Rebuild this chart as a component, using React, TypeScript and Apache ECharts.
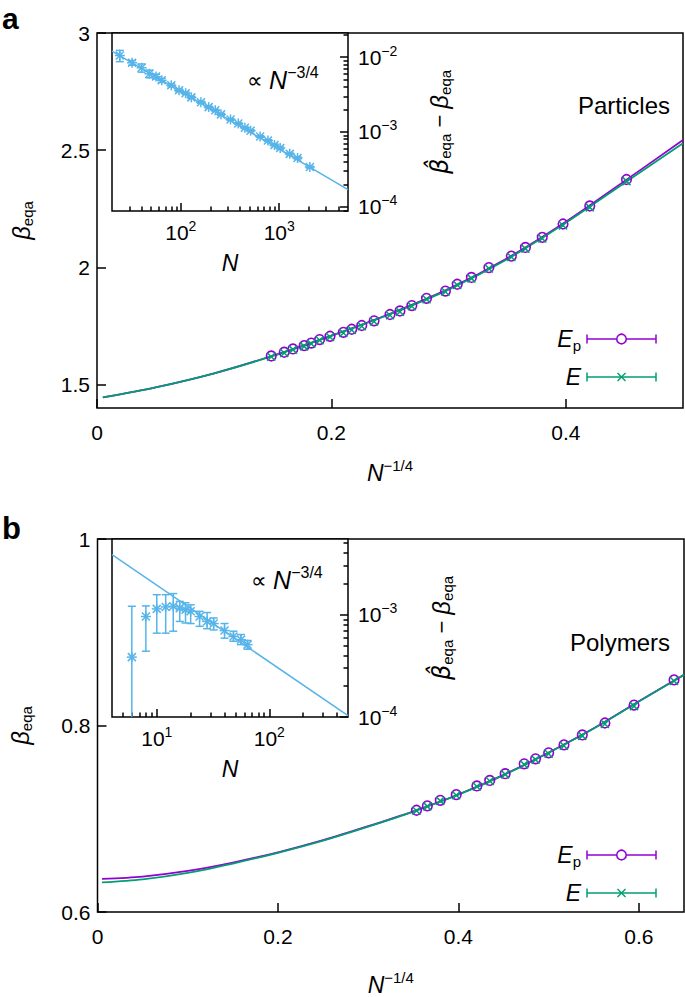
import React, { useEffect, useRef } from 'react';
import * as echarts from 'echarts';

const FONT = '"Liberation Sans", Arial, Helvetica, sans-serif';
const PURPLE = '#9400D3';
const GREEN = '#009E73';
const BLUE = '#56B4E9';

// ---------- Panel a (Particles) ----------
const particleN = [24, 32, 40, 48, 56, 64, 80, 96, 112, 128, 160, 192, 224, 256, 320, 384, 448, 512, 640, 768, 896, 1024, 1280, 1536, 2048];
const particleEp = [2.375, 2.262, 2.185, 2.128, 2.085, 2.048, 1.999, 1.957, 1.928, 1.899, 1.868, 1.837, 1.814, 1.799, 1.772, 1.752, 1.736, 1.723, 1.706, 1.692, 1.677, 1.666, 1.652, 1.638, 1.622];
const particleE = [2.368, 2.256, 2.179, 2.123, 2.080, 2.044, 1.995, 1.953, 1.925, 1.896, 1.864, 1.834, 1.811, 1.796, 1.769, 1.749, 1.733, 1.720, 1.703, 1.689, 1.674, 1.663, 1.649, 1.635, 1.619];
const fitXa = [0.005, 0.05, 0.1, 0.15, 0.2, 0.25, 0.3, 0.35, 0.4, 0.45, 0.5];
const fitEpA = [1.445, 1.488, 1.548, 1.623, 1.709, 1.802, 1.908, 2.039, 2.195, 2.368, 2.543];
const fitEA = [1.445, 1.488, 1.548, 1.622, 1.708, 1.800, 1.905, 2.035, 2.190, 2.360, 2.530];
// inset a: beta_hat - beta vs N
const insetDiffA = [1.05e-2, 8.4e-3, 7.2e-3, 6.0e-3, 5.5e-3, 4.9e-3, 4.2e-3, 3.6e-3, 3.3e-3, 2.9e-3, 2.5e-3, 2.15e-3, 1.95e-3, 1.72e-3, 1.47e-3, 1.3e-3, 1.14e-3, 1.04e-3, 8.7e-4, 7.7e-4, 6.7e-4, 6.1e-4, 5.1e-4, 4.5e-4, 3.4e-4];
const insetErrA = [1.8e-3, 6e-4, 9e-4, 7e-4, 4e-4, 3e-4, 2e-4, 1.5e-4, 1.2e-4, 1e-4, 8e-5, 6e-5, 5e-5, 5e-5, 4e-5, 3e-5, 3e-5, 3e-5, 2e-5, 2e-5, 2e-5, 2e-5, 1.5e-5, 1.5e-5, 1e-5];
const insetFitNa = [20, 5000];
const insetFitA = [1.2e-2, 1.7e-4];

// ---------- Panel b (Polymers) ----------
const polymerN = [6, 8, 10, 12, 14, 16, 18, 20, 24, 28, 32, 40, 48, 56, 64];
const polymerEp = [0.8489, 0.8219, 0.8027, 0.7899, 0.7792, 0.7707, 0.7643, 0.7589, 0.7483, 0.7411, 0.7352, 0.7259, 0.7198, 0.7138, 0.7091];
const polymerE = [0.8478, 0.8208, 0.8016, 0.7889, 0.7783, 0.7698, 0.7634, 0.7581, 0.7476, 0.7404, 0.7345, 0.7253, 0.7192, 0.7133, 0.7086];
const fitXb = [0.005, 0.05, 0.1, 0.15, 0.2, 0.25, 0.3, 0.35, 0.4, 0.45, 0.5, 0.55, 0.6, 0.65];
const fitEpB = [0.6355, 0.638, 0.644, 0.653, 0.664, 0.677, 0.692, 0.708, 0.726, 0.747, 0.771, 0.797, 0.826, 0.8545];
const fitEB = [0.6317, 0.635, 0.642, 0.652, 0.6635, 0.6765, 0.6915, 0.7077, 0.7258, 0.7468, 0.7708, 0.7968, 0.8258, 0.8543];
const insetDiffB = [3.85e-4, 9.6e-4, 1.14e-3, 1.19e-3, 1.21e-3, 1.16e-3, 1.12e-3, 1.08e-3, 9.6e-4, 8.6e-4, 8.2e-4, 7.0e-4, 6.13e-4, 5.7e-4, 5.1e-4];
const insetLoB = [0, 4.4e-4, 6.6e-4, 6.6e-4, 6.9e-4, 8.6e-4, 8.3e-4, 8.2e-4, 7.7e-4, 7.3e-4, 7.1e-4, 5.9e-4, 5.5e-4, 5.1e-4, 4.6e-4];
const insetHiB = [1.21e-3, 1.22e-3, 1.57e-3, 1.57e-3, 1.61e-3, 1.35e-3, 1.31e-3, 1.25e-3, 1.08e-3, 1.05e-3, 9.3e-4, 8.2e-4, 6.9e-4, 6.4e-4, 5.6e-4];
const insetFitNb = [4, 500];
const insetFitB = [3.87e-3, 1.03e-4];

// ---------- ticks / ranges ----------
const mainXTicksA = [0, 0.2, 0.4];
const mainYTicksA = [1.5, 2, 2.5, 3];
const mainXTicksB = [0, 0.2, 0.4, 0.6];
const mainYTicksB = [0.6, 0.8, 1];
const insetXRangeA = [20, 5000];
const insetYRangeA = [8.8e-5, 0.021];
const insetXMajorA = [100, 1000];
const insetYMajorA = [1e-4, 1e-3, 1e-2];
const insetXRangeB = [4, 500];
const insetYRangeB = [1e-4, 5.5e-3];
const insetXMajorB = [10, 100];
const insetYMajorB = [1e-4, 1e-3];

const lg = (v: number) => Math.log10(v);

function minorLogTicks(lo: number, hi: number): number[] {
  const out: number[] = [];
  for (let e = Math.floor(lg(lo)) - 1; e <= Math.ceil(lg(hi)); e++) {
    for (let k = 2; k <= 9; k++) {
      const v = k * Math.pow(10, e);
      if (v > lo * 1.0001 && v < hi * 0.9999) out.push(lg(v));
    }
  }
  return out;
}

const black = '#000';
const tickStyle = { color: black, width: 1.5 };

const richCommon: any = {
  b: { fontSize: 21, fontFamily: FONT, color: black },
  s: { fontSize: 14, fontFamily: FONT, color: black, padding: [0, 0, 13, 0] },
  i: { fontSize: 23, fontStyle: 'italic', fontFamily: FONT, color: black },
  g: { fontSize: 24, fontStyle: 'italic', fontFamily: FONT, color: black },
  gh: { fontSize: 24, fontStyle: 'italic', fontFamily: '"DejaVu Sans", sans-serif', color: black },
  ss: { fontSize: 15, fontFamily: FONT, color: black, padding: [0, 0, 14, 0] },
  sub: { fontSize: 15, fontFamily: FONT, color: black, padding: [12, 0, 0, 0] },
  m: { fontSize: 22, fontFamily: FONT, color: black },
};

const logFmt = (v: number) => {
  const e = Math.round(v);
  return `{b|10}{s|${e < 0 ? '\u2212' + -e : e}}`;
};

function mainX(grid: number, max: number, ticks: number[], nameGap: number) {
  return {
    type: 'value', gridIndex: grid, min: 0, max, position: 'bottom',
    axisLine: { show: false },
    axisTick: { show: true, inside: true, length: 9, lineStyle: tickStyle, customValues: ticks },
    axisLabel: { customValues: ticks, color: black, fontSize: 21, fontFamily: FONT, margin: 14 },
    splitLine: { show: false },
    name: '{i|N}{ss|\u22121/4}', nameLocation: 'middle', nameGap,
    nameTextStyle: { rich: richCommon },
  };
}
function mainY(grid: number, min: number, max: number, ticks: number[], nameGap: number) {
  return {
    type: 'value', gridIndex: grid, min, max, position: 'left',
    axisLine: { show: false },
    axisTick: { show: true, inside: true, length: 9, lineStyle: tickStyle, customValues: ticks },
    axisLabel: { customValues: ticks, color: black, fontSize: 21, fontFamily: FONT, margin: 7 },
    splitLine: { show: false },
    name: '{g|\u03B2}{sub|eqa}', nameLocation: 'middle', nameGap, nameRotate: 90,
    nameTextStyle: { rich: richCommon },
  };
}
function insetX(grid: number, range: number[], major: number[]) {
  const t = major.map(lg);
  return {
    type: 'value', gridIndex: grid, min: lg(range[0]), max: lg(range[1]), position: 'bottom',
    axisLine: { show: false },
    axisTick: { show: true, inside: true, length: 8, lineStyle: tickStyle, customValues: t },
    axisLabel: { customValues: t, formatter: logFmt, rich: richCommon, margin: 8 },
    splitLine: { show: false },
    name: '{i|N}', nameLocation: 'middle', nameGap: 40,
    nameTextStyle: { rich: richCommon },
  };
}
function insetXMinor(grid: number, range: number[]) {
  return {
    type: 'value', gridIndex: grid, min: lg(range[0]), max: lg(range[1]), position: 'bottom',
    axisLine: { show: false },
    axisTick: { show: true, inside: true, length: 4.5, lineStyle: tickStyle, customValues: minorLogTicks(range[0], range[1]) },
    axisLabel: { show: false },
    splitLine: { show: false },
  };
}
function insetY(grid: number, range: number[], major: number[], nameGap: number) {
  const t = major.map(lg);
  return {
    type: 'value', gridIndex: grid, min: lg(range[0]), max: lg(range[1]), position: 'right',
    axisLine: { show: false },
    axisTick: { show: true, inside: true, length: 8, lineStyle: tickStyle, customValues: t },
    axisLabel: { customValues: t, formatter: logFmt, rich: richCommon, margin: 10 },
    splitLine: { show: false },
    name: '{gh|\u03B2\u0302}{sub|eqa}{m| \u2212 }{g|\u03B2}{sub|eqa}', nameLocation: 'middle', nameGap, nameRotate: 90,
    nameTextStyle: { rich: richCommon },
  };
}
function insetYMinor(grid: number, range: number[]) {
  return {
    type: 'value', gridIndex: grid, min: lg(range[0]), max: lg(range[1]), position: 'right',
    axisLine: { show: false },
    axisTick: { show: true, inside: true, length: 4.5, lineStyle: tickStyle, customValues: minorLogTicks(range[0], range[1]) },
    axisLabel: { show: false },
    splitLine: { show: false },
  };
}

const ln = (x1: number, y1: number, x2: number, y2: number, color: string) => ({
  type: 'line', shape: { x1, y1, x2, y2 }, style: { stroke: color, lineWidth: 1.5 },
});

const circleRender = (color: string) => (_p: any, api: any) => {
  const p = api.coord([api.value(0), api.value(1)]);
  return { type: 'circle', shape: { cx: p[0], cy: p[1], r: 4.8 }, style: { fill: 'none', stroke: color, lineWidth: 1.6 } };
};
const crossRender = (color: string) => (_p: any, api: any) => {
  const p = api.coord([api.value(0), api.value(1)]);
  const s = 4;
  return { type: 'group', children: [ln(p[0] - s, p[1] - s, p[0] + s, p[1] + s, color), ln(p[0] - s, p[1] + s, p[0] + s, p[1] - s, color)] };
};
const starErrRender = (color: string) => (_p: any, api: any) => {
  const x = api.value(0);
  const p = api.coord([x, api.value(1)]);
  const lo = api.coord([x, api.value(2)]);
  const hi = api.coord([x, api.value(3)]);
  const s = 4, c = 4;
  return {
    type: 'group', children: [
      ln(lo[0], lo[1], hi[0], hi[1], color),
      ln(lo[0] - c, lo[1], lo[0] + c, lo[1], color),
      ln(hi[0] - c, hi[1], hi[0] + c, hi[1], color),
      ln(p[0] - s, p[1] - s, p[0] + s, p[1] + s, color),
      ln(p[0] - s, p[1] + s, p[0] + s, p[1] - s, color),
      ln(p[0] - s - 1, p[1], p[0] + s + 1, p[1], color),
      ln(p[0], p[1] - s - 1, p[0], p[1] + s + 1, color),
    ],
  };
};

const richLegend: any = {
  i: { fontSize: 23, fontStyle: 'italic', fontFamily: FONT, fill: black, color: black },
  sub: { fontSize: 15, fontFamily: FONT, fill: black, color: black, padding: [12, 0, 0, 0] },
};
const richProp: any = {
  m: { fontSize: 22, fontFamily: FONT, fill: black, color: black },
  i: { fontSize: 25, fontStyle: 'italic', fontFamily: FONT, fill: black, color: black },
  s: { fontSize: 16, fontFamily: FONT, fill: black, color: black, padding: [0, 0, 15, 0] },
};

function legendRow(y: number, color: string, marker: 'circle' | 'cross', label: string) {
  const x1 = 587, x2 = 656, xm = 621.5;
  const els: any[] = [
    { type: 'text', x: 581, y, style: { text: label, rich: richLegend, align: 'right', verticalAlign: 'middle' } },
    ln(x1, y, x2, y, color),
    ln(x1, y - 4.5, x1, y + 4.5, color),
    ln(x2, y - 4.5, x2, y + 4.5, color),
  ];
  if (marker === 'circle') {
    els.push({ type: 'circle', shape: { cx: xm, cy: y, r: 4.8 }, style: { fill: '#fff', stroke: color, lineWidth: 1.6 } });
  } else {
    els.push(ln(xm - 4, y - 4, xm + 4, y + 4, color), ln(xm - 4, y + 4, xm + 4, y - 4, color));
  }
  return els;
}

function buildOption() {
  const xa = particleN.map((n) => Math.pow(n, -0.25));
  const xb = polymerN.map((n) => Math.pow(n, -0.25));
  return {
    animation: false,
    backgroundColor: '#fff',
    grid: [
      { left: 97, top: 33, width: 586, height: 375, show: true, borderColor: black, borderWidth: 1.5, backgroundColor: 'transparent' },
      { left: 112, top: 33, width: 236, height: 178, show: true, borderColor: black, borderWidth: 1.5, backgroundColor: '#fff' },
      { left: 97, top: 539, width: 587, height: 375, show: true, borderColor: black, borderWidth: 1.5, backgroundColor: 'transparent' },
      { left: 112, top: 539, width: 236, height: 178, show: true, borderColor: black, borderWidth: 1.5, backgroundColor: '#fff' },
    ],
    xAxis: [
      mainX(0, 0.5, mainXTicksA, 50),
      insetX(1, insetXRangeA, insetXMajorA),
      insetXMinor(1, insetXRangeA),
      mainX(2, 0.65, mainXTicksB, 58),
      insetX(3, insetXRangeB, insetXMajorB),
      insetXMinor(3, insetXRangeB),
    ],
    yAxis: [
      mainY(0, 1.4, 3, mainYTicksA, 62),
      insetY(1, insetYRangeA, insetYMajorA, 78),
      insetYMinor(1, insetYRangeA),
      mainY(2, 0.6, 1, mainYTicksB, 64),
      insetY(3, insetYRangeB, insetYMajorB, 80),
      insetYMinor(3, insetYRangeB),
    ],
    series: [
      // panel a main
      { type: 'line', xAxisIndex: 0, yAxisIndex: 0, data: fitXa.map((x, i) => [x, fitEpA[i]]), showSymbol: false, smooth: 0.3, lineStyle: { color: PURPLE, width: 1.8 }, z: 2 },
      { type: 'line', xAxisIndex: 0, yAxisIndex: 0, data: fitXa.map((x, i) => [x, fitEA[i]]), showSymbol: false, smooth: 0.3, lineStyle: { color: GREEN, width: 1.8 }, z: 3 },
      { type: 'custom', xAxisIndex: 0, yAxisIndex: 0, data: xa.map((x, i) => [x, particleEp[i]]), renderItem: circleRender(PURPLE), z: 4, clip: true },
      { type: 'custom', xAxisIndex: 0, yAxisIndex: 0, data: xa.map((x, i) => [x, particleE[i]]), renderItem: crossRender(GREEN), z: 5, clip: true },
      // panel a inset
      { type: 'line', xAxisIndex: 1, yAxisIndex: 1, data: insetFitNa.map((n, i) => [lg(n), lg(insetFitA[i])]), showSymbol: false, lineStyle: { color: BLUE, width: 1.5 }, z: 6 },
      { type: 'custom', xAxisIndex: 1, yAxisIndex: 1, data: particleN.map((n, i) => [lg(n), lg(insetDiffA[i]), lg(insetDiffA[i] - insetErrA[i]), lg(insetDiffA[i] + insetErrA[i])]), renderItem: starErrRender(BLUE), z: 7, clip: true },
      // panel b main
      { type: 'line', xAxisIndex: 3, yAxisIndex: 3, data: fitXb.map((x, i) => [x, fitEpB[i]]), showSymbol: false, smooth: 0.3, lineStyle: { color: PURPLE, width: 1.8 }, z: 2 },
      { type: 'line', xAxisIndex: 3, yAxisIndex: 3, data: fitXb.map((x, i) => [x, fitEB[i]]), showSymbol: false, smooth: 0.3, lineStyle: { color: GREEN, width: 1.8 }, z: 3 },
      { type: 'custom', xAxisIndex: 3, yAxisIndex: 3, data: xb.map((x, i) => [x, polymerEp[i]]), renderItem: circleRender(PURPLE), z: 4, clip: true },
      { type: 'custom', xAxisIndex: 3, yAxisIndex: 3, data: xb.map((x, i) => [x, polymerE[i]]), renderItem: crossRender(GREEN), z: 5, clip: true },
      // panel b inset
      { type: 'line', xAxisIndex: 4, yAxisIndex: 4, data: insetFitNb.map((n, i) => [lg(n), lg(insetFitB[i])]), showSymbol: false, lineStyle: { color: BLUE, width: 1.5 }, z: 6 },
      { type: 'custom', xAxisIndex: 4, yAxisIndex: 4, data: polymerN.map((n, i) => [lg(n), lg(insetDiffB[i]), insetLoB[i] > 0 ? lg(insetLoB[i]) : -6, lg(insetHiB[i])]), renderItem: starErrRender(BLUE), z: 7, clip: true },
    ],
    graphic: [
      { type: 'text', x: 2, y: 18, style: { text: 'a', fontSize: 30, fontWeight: 'bold', fontFamily: FONT, fill: black, verticalAlign: 'middle' } },
      { type: 'text', x: 2, y: 528, style: { text: 'b', fontSize: 31, fontWeight: 'bold', fontFamily: FONT, fill: black, verticalAlign: 'middle' } },
      { type: 'text', x: 247, y: 80, style: { text: '{m|\u221D }{i|N}{s|\u22123/4}', rich: richProp, verticalAlign: 'middle' } },
      { type: 'text', x: 251, y: 580, style: { text: '{m|\u221D }{i|N}{s|\u22123/4}', rich: richProp, verticalAlign: 'middle' } },
      { type: 'text', x: 670, y: 105, style: { text: 'Particles', fontSize: 24, fontFamily: FONT, fill: black, align: 'right', verticalAlign: 'middle' } },
      { type: 'text', x: 670, y: 642, style: { text: 'Polymers', fontSize: 24, fontFamily: FONT, fill: black, align: 'right', verticalAlign: 'middle' } },
      ...legendRow(339, PURPLE, 'circle', '{i|E}{sub|p}'),
      ...legendRow(377, GREEN, 'cross', '{i|E}'),
      ...legendRow(855, PURPLE, 'circle', '{i|E}{sub|p}'),
      ...legendRow(893, GREEN, 'cross', '{i|E}'),
    ],
  };
}

export default function App() {
  const ref = useRef<HTMLDivElement>(null);
  useEffect(() => {
    if (!ref.current) return;
    const chart = echarts.init(ref.current, null, { renderer: 'svg' });
    chart.setOption(buildOption() as any);
    return () => chart.dispose();
  }, []);
  return <div ref={ref} style={{ position: 'fixed', left: 0, top: 0, width: 685, height: 997, background: '#fff' }} />;
}
